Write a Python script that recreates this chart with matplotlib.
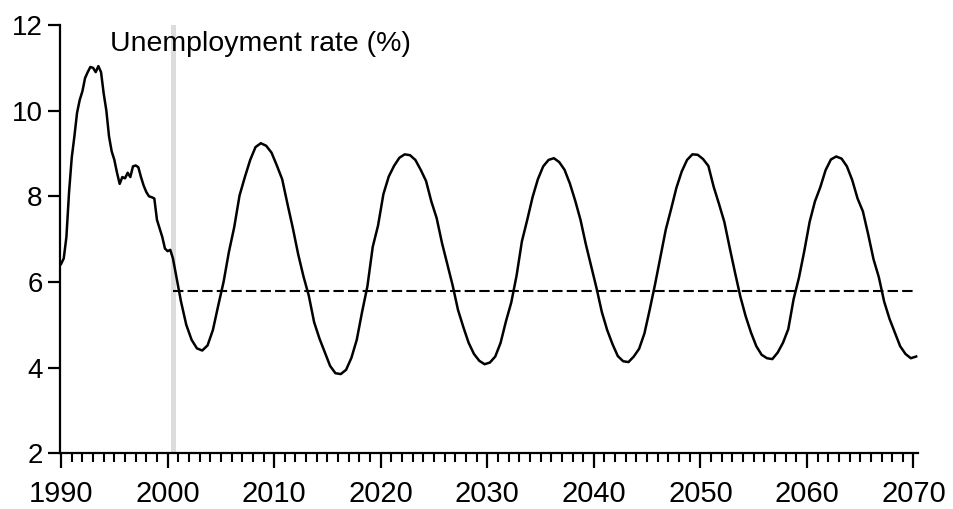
import numpy as np
import matplotlib
matplotlib.use('Agg')
import matplotlib.pyplot as plt
from matplotlib.ticker import MultipleLocator

# history, quarterly 1990Q1 - 2000Q4
hist_start = 1990.0
hist_rate = [
    6.42, 6.55, 7.05, 8.10,
    8.90, 9.40, 9.95, 10.25,
    10.45, 10.76, 10.90, 11.02,
    11.00, 10.90, 11.04, 10.90,
    10.40, 10.00, 9.40, 9.05,
    8.85, 8.55, 8.29, 8.45,
    8.42, 8.55, 8.45, 8.70,
    8.72, 8.68, 8.45, 8.25,
    8.10, 8.00, 7.98, 7.95,
    7.45, 7.25, 7.05, 6.78,
    6.72, 6.75, 6.55, 6.22,
]

# projection, half-yearly from 2001.25 to 2070.25
proj_start = 2001.25
proj_rate = [
    5.55, 5.00, 4.65, 4.45, 4.40, 4.52, 4.88, 5.45, 6.00, 6.70,
    7.28, 8.02, 8.45, 8.85, 9.15, 9.24, 9.18, 9.02, 8.72, 8.40,
    7.82, 7.26, 6.65, 6.13, 5.68, 5.06, 4.68, 4.36, 4.04, 3.87,
    3.85, 3.95, 4.23, 4.65, 5.30, 5.90, 6.82, 7.32, 8.05, 8.46,
    8.71, 8.90, 8.98, 8.96, 8.85, 8.62, 8.36, 7.88, 7.49, 6.91,
    6.42, 5.92, 5.35, 4.95, 4.58, 4.32, 4.16, 4.08, 4.12, 4.26,
    4.58, 5.08, 5.52, 6.15, 6.95, 7.45, 7.98, 8.40, 8.70, 8.85,
    8.89, 8.80, 8.62, 8.30, 7.90, 7.45, 6.88, 6.37, 5.86, 5.30,
    4.88, 4.55, 4.27, 4.15, 4.13, 4.26, 4.44, 4.80, 5.36, 5.95,
    6.58, 7.22, 7.70, 8.20, 8.58, 8.85, 8.98, 8.97, 8.87, 8.71,
    8.22, 7.82, 7.40, 6.80, 6.22, 5.66, 5.20, 4.82, 4.50, 4.30,
    4.22, 4.20, 4.35, 4.58, 4.90, 5.60, 6.10, 6.72, 7.40, 7.88,
    8.21, 8.61, 8.86, 8.93, 8.88, 8.70, 8.38, 7.95, 7.65, 7.11,
    6.53, 6.11, 5.54, 5.14, 4.82, 4.50, 4.32, 4.22, 4.26,
]

NAIRU = 5.8
nairu_span = [2000.5, 2070.25]
shade_span = [2000.3, 2000.75]

hist_x = hist_start + 0.25 * np.arange(len(hist_rate))
proj_x = proj_start + 0.5 * np.arange(len(proj_rate))
x = np.concatenate([hist_x, proj_x])
y = np.array(hist_rate + proj_rate)

plt.rcParams['font.family'] = ['Liberation Sans', 'DejaVu Sans']

fig = plt.figure(figsize=(9.54, 5.09), dpi=100)
ax = fig.add_axes([0.0629, 0.1094, 0.8991, 0.8415])

ax.axvspan(shade_span[0], shade_span[1], color='#dcdcdc', lw=0, zorder=1)
ax.plot(nairu_span, [NAIRU, NAIRU], color='black', lw=1.5,
        linestyle=(0, (5, 2)), zorder=2)
ax.plot(x, y, color='black', lw=1.8, zorder=3)

ax.text(1994.6, 11.55, 'Unemployment rate (%)', fontsize=20.5,
        ha='left', va='center')

ax.set_xlim(1989.9, 2070.4)
ax.set_ylim(2, 12)
ax.xaxis.set_major_locator(MultipleLocator(10))
ax.xaxis.set_minor_locator(MultipleLocator(1))
ax.set_yticks([2, 4, 6, 8, 10, 12])

for side in ['top', 'right']:
    ax.spines[side].set_visible(False)
for side in ['left', 'bottom']:
    ax.spines[side].set_linewidth(1.6)

ax.tick_params(axis='x', which='major', direction='out', length=11,
               width=1.6, labelsize=21, pad=8)
ax.tick_params(axis='x', which='minor', direction='out', length=6.5,
               width=1.5)
ax.tick_params(axis='y', which='major', direction='out', length=8.5,
               width=1.6, labelsize=20, pad=4)

fig.savefig('out.png', dpi=100)
